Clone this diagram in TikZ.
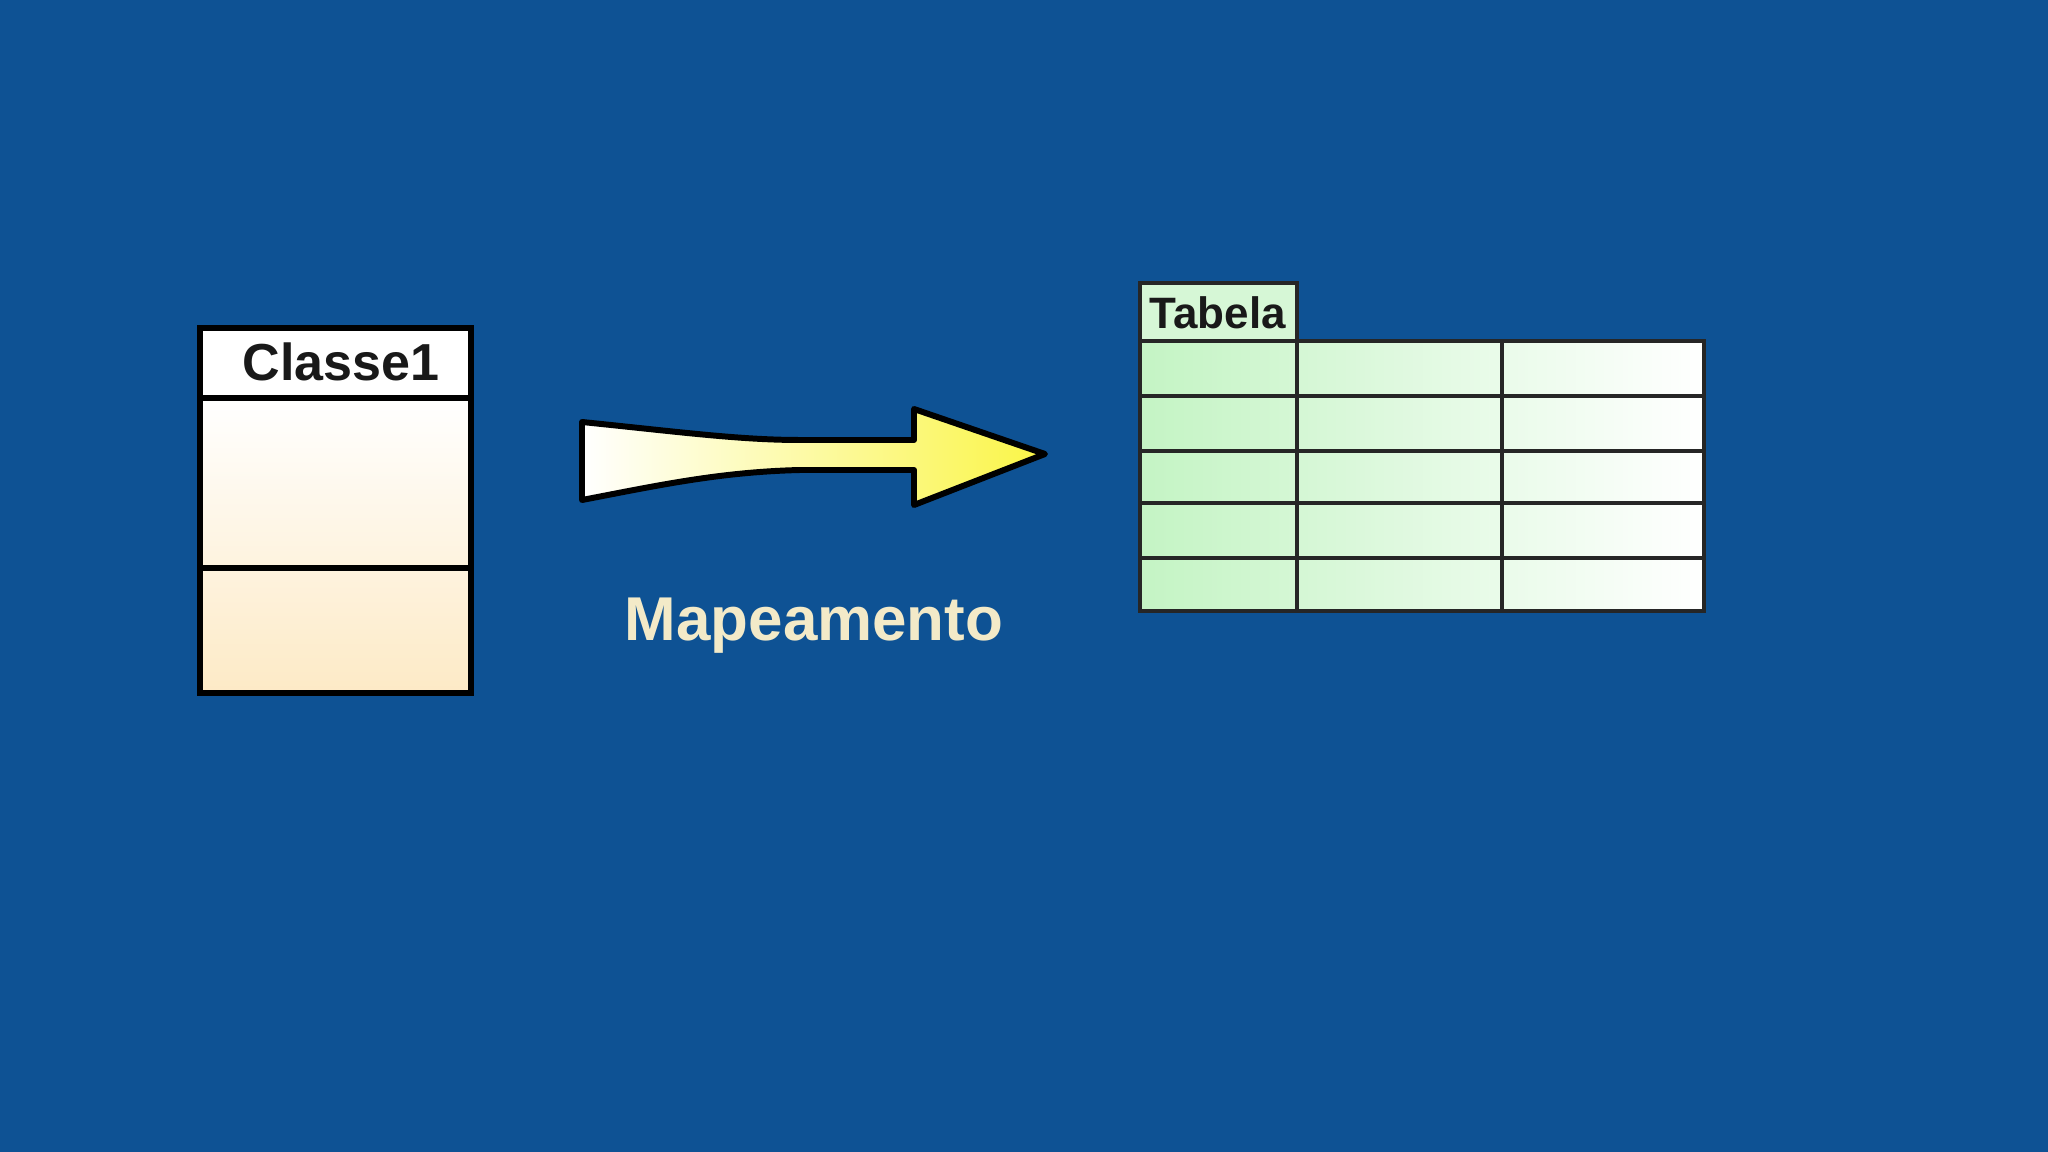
\documentclass[tikz,border=0pt]{standalone}
\usepackage{fontspec}
\setmainfont{Liberation Sans}
\usetikzlibrary{positioning}
\definecolor{slideblue}{RGB}{14,82,148}
\definecolor{classcream}{RGB}{253,234,198}
\definecolor{tablegreen}{RGB}{196,244,196}
\definecolor{arrowyellow}{RGB}{250,245,70}
\definecolor{labelcream}{RGB}{243,234,200}

\begin{document}
\begin{tikzpicture}[x=0.01cm,y=-0.01cm,
  boxline/.style={draw=black,line width=1.7pt},
  gridline/.style={draw=black!85,line width=1.1pt}]
  % ── Background ──
  \fill[slideblue] (0,0) rectangle (2048,1152);
  \useasboundingbox (0,0) rectangle (2048,1152);

  % ── Class box ──
  \shade[top color=white,bottom color=classcream] (200,398) rectangle (471,693);
  \fill[white] (200,328) rectangle (471,398);
  \draw[boxline] (200,328) rectangle (471,693);
  \draw[boxline] (200,398) -- (471,398);
  \draw[boxline] (200,568) -- (471,568);
  \node[anchor=base,inner sep=0,font=\fontsize{14.8}{16}\selectfont\bfseries,text=black!90] (classname) at (341,381) {Classe1};

  % ── Mapping arrow ──
  \draw[line width=1.7pt,line join=round,left color=white,right color=arrowyellow]
    (582,422) .. controls (680,432) and (740,440) .. (800,440) -- (914,440)
    -- (914,409) -- (1045,454) -- (914,505) -- (914,470) -- (800,470)
    .. controls (720,472) and (660,485) .. (582,500) -- cycle;
  \node[anchor=base,inner sep=0,font=\fontsize{17.6}{19}\selectfont\bfseries,text=labelcream] (maplabel) at (814,640) {Mapeamento};

  % ── Table ──
  \shade[left color=tablegreen,right color=white] (1140,341) rectangle (1704,611);
  \fill[tablegreen!70!white] (1140,283) rectangle (1297,341);
  \draw[gridline] (1140,283) rectangle (1297,341);
  \foreach \y in {396,451,503,558} \draw[gridline] (1140,\y) -- (1704,\y);
  \foreach \x in {1297,1502} \draw[gridline] (\x,341) -- (\x,611);
  \draw[gridline] (1140,341) rectangle (1704,611);
  \node[anchor=base west,inner sep=0,font=\fontsize{12.5}{14}\selectfont\bfseries,text=black!90] (tablename) at (1149,329) {Tabela};
\end{tikzpicture}
\end{document}
